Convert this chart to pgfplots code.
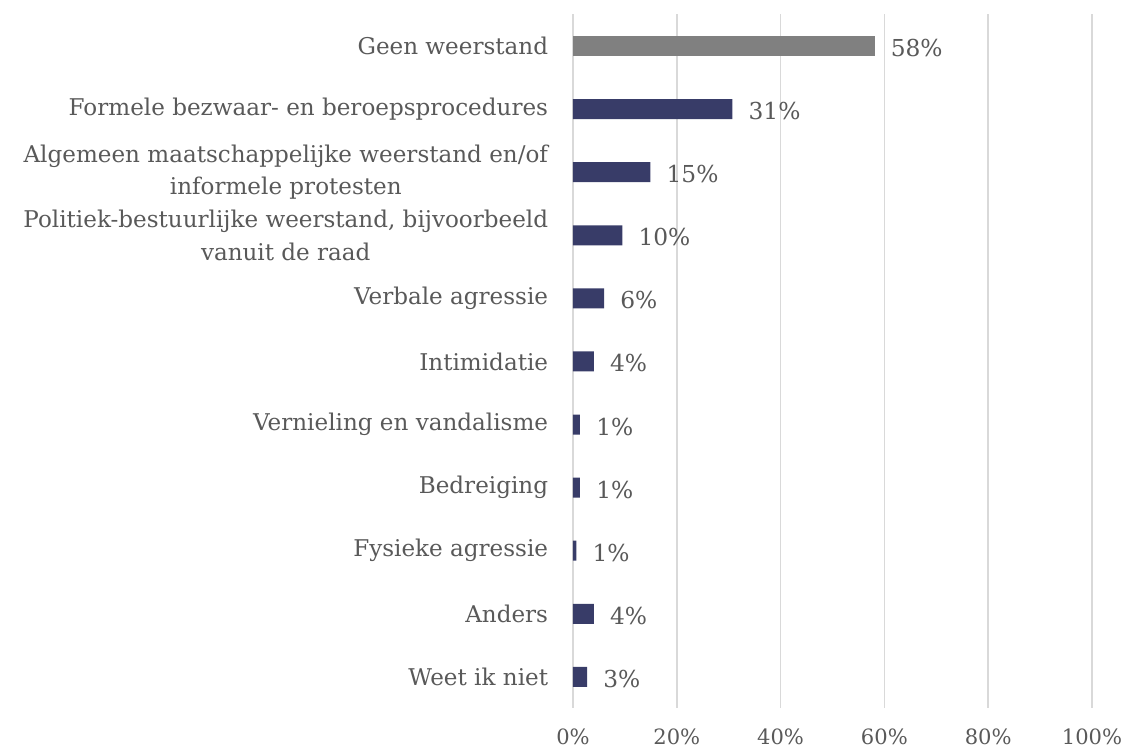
\documentclass[border=0pt]{standalone}
\usepackage{pgfplots}
\pgfplotsset{compat=1.18}
\usepackage{fontspec}
\setmainfont{DejaVu Serif}
\definecolor{navy}{RGB}{56,60,104}
\definecolor{barGray}{RGB}{128,128,128}
\definecolor{gridGray}{RGB}{217,217,217}
\definecolor{txt}{RGB}{89,89,89}
\begin{document}
\begin{tikzpicture}
\begin{axis}[
  name=a,
  scale only axis,
  width=389.25pt, height=520.5pt,
  xbar, bar width=15pt, bar shift=0pt,
  xmin=0, xmax=100,
  ymin=-0.5, ymax=10.5, y dir=reverse,
  axis line style={draw=none},
  major tick length=0pt,
  xtick={0,20,40,60,80,100},
  xticklabels={0\%,20\%,40\%,60\%,80\%,100\%},
  xmajorgrids, grid style={gridGray, line width=1.1pt},
  ytick={0,...,10},
  yticklabels={
    Geen weerstand,
    Formele bezwaar- en beroepsprocedures,
    {Algemeen maatschappelijke weerstand en/of\\informele protesten},
    {Politiek-bestuurlijke weerstand, bijvoorbeeld\\vanuit de raad},
    Verbale agressie,
    Intimidatie,
    Vernieling en vandalisme,
    Bedreiging,
    Fysieke agressie,
    Anders,
    Weet ik niet},
  yticklabel style={font=\fontsize{17.3}{24.5}\selectfont, text=txt, align=center, anchor=east, xshift=-18.5pt, inner sep=0pt},
  xticklabel style={font=\fontsize{15.8}{18}\selectfont, text=txt, anchor=north, yshift=-15pt, inner sep=0pt},
  point meta=explicit symbolic,
  nodes near coords,
  every node near coord/.append style={font=\fontsize{17.5}{20}\selectfont, text=txt, anchor=west, inner sep=0pt, xshift=12pt, yshift=-1.5pt},
  clip=false,
]
\addplot[fill=barGray, draw=none] coordinates {(58.1,0) [58\%]};
\addplot[fill=navy, draw=none] coordinates {
  (30.7,1) [31\%]
  (14.9,2) [15\%]
  (9.5,3) [10\%]
  (6.0,4) [6\%]
  (4.0,5) [4\%]
  (1.35,6) [1\%]
  (1.35,7) [1\%]
  (0.65,8) [1\%]
  (4.0,9) [4\%]
  (2.7,10) [3\%]
};
\end{axis}
\pgfresetboundingbox
\path (a.south west) ++(-429.75pt,-30.4pt) rectangle ++(843.75pt,561.75pt);
\end{tikzpicture}
\end{document}
